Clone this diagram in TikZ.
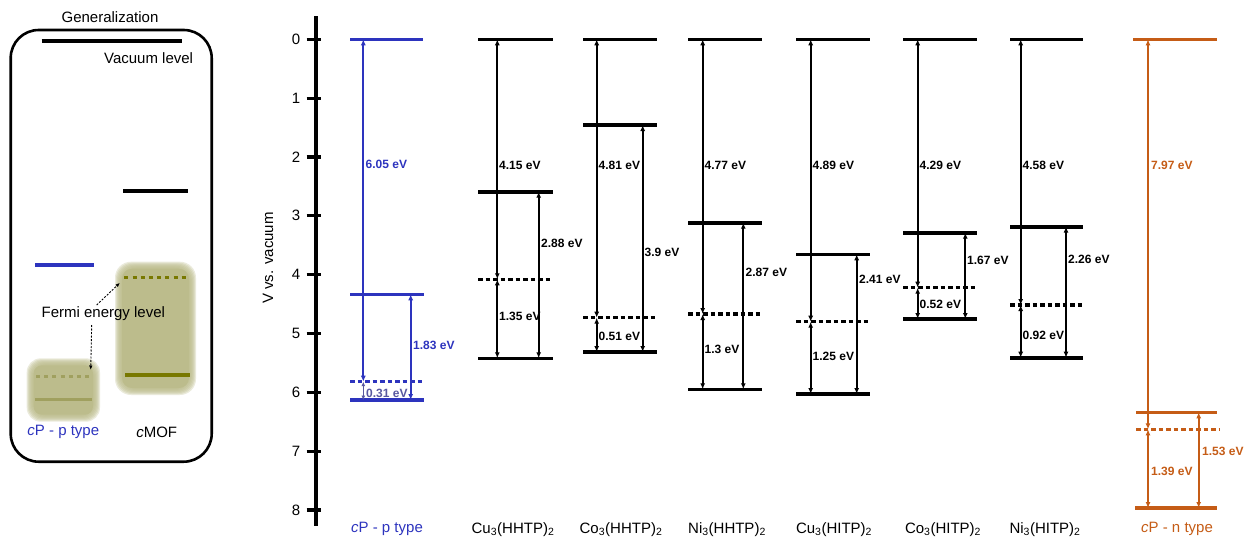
\documentclass[tikz,border=0pt]{standalone}
\usepackage{fontspec}
\setmainfont{Liberation Sans}
\usetikzlibrary{arrows.meta}
\definecolor{pblue}{RGB}{45,52,190}
\definecolor{pgray}{RGB}{88,88,160}
\definecolor{norange}{RGB}{197,92,22}
\definecolor{olivebox}{RGB}{188,188,140}
\definecolor{olivedark}{RGB}{120,120,0}
\definecolor{olivelight}{RGB}{160,160,95}
\newcommand\bandcol[8]{%
  \draw[lvl] (#2,39.3) -- (#3,39.3);
  \draw[lvl] (#2,#6) -- (#3,#6);
  \draw[dlvl] (#2,#7) -- (#3,#7);
  \draw[lvl] (#2,#8) -- (#3,#8);
  \coordinate (#1t) at (#4,39.3);
  \coordinate (#1d) at (#4,#7);
  \coordinate (#1b) at (#4,#8);
  \coordinate (#1u) at (#5,#6);
  \coordinate (#1v) at (#5,#8);
  \draw[arr] (#1t) -- (#1d);
  \draw[arr] (#1d) -- (#1b);
  \draw[arr] (#1u) -- (#1v);
}
\begin{document}
\begin{tikzpicture}[x=1pt,y=-1pt,
  lvl/.style={line width=3.6pt},
  dlvl/.style={line width=3.2pt, dash pattern=on 4.5pt off 3pt},
  arr/.style={line width=1.7pt, {Latex[length=6pt,width=5pt]}-{Latex[length=6pt,width=5pt]}},
  val/.style={font=\fontsize{12}{12}\selectfont\bfseries, anchor=west, inner sep=0pt},
  txt/.style={font=\fontsize{15}{15}\selectfont, inner sep=0pt},
  fermiarr/.style={line width=0.9pt, dash pattern=on 2pt off 1.5pt, -{Latex[length=4.5pt,width=3.5pt]}}
]
\useasboundingbox (0,0) rectangle (1245,539);

% ---------------- left panel ----------------
\node[txt] (gen) at (110,16.7) {Generalization};
\draw[line width=2.6pt, rounded corners=28pt] (10.7,30) rectangle (211.7,461.7);
\draw[line width=4pt] (41.7,40.7) -- (181.7,40.7);
\node[txt, anchor=east] (vac) at (193.3,58.3) {Vacuum level};
\draw[line width=4pt] (123.3,190.7) -- (188.3,190.7);
\draw[line width=4pt, pblue] (35,265) -- (94.3,265);
% blurred boxes
\foreach \i in {0,1,...,6} {
  \fill[olivebox, opacity=0.3, rounded corners=16pt] (115+\i,261.7+\i) rectangle (196-\i,395-\i);
  \fill[olivebox, opacity=0.3, rounded corners=14pt] (26.7+\i,358.3+\i) rectangle (100-\i,421.7-\i);
}
\fill[olivebox, rounded corners=10pt] (122,268.7) rectangle (189,388);
\fill[olivebox, rounded corners=8pt] (33.7,365.3) rectangle (93,414.7);
\draw[olivedark, line width=2.8pt, dash pattern=on 4pt off 4.2pt] (124.3,277.7) -- (186.7,277.7);
\draw[olivedark, line width=3.2pt] (125,375) -- (190,375);
\draw[olivelight, line width=2.8pt, dash pattern=on 4pt off 4.2pt] (36,376.7) -- (90,376.7);
\draw[olivelight, line width=3.2pt] (35,399.3) -- (91.7,399.3);
\node[txt] (fermi) at (103.3,313.3) {Fermi energy level};
\coordinate (fa1) at (96.7,305);
\coordinate (fb1) at (120,282.7);
\coordinate (fa2) at (91.7,325);
\coordinate (fb2) at (90.7,370);
\draw[fermiarr] (fa1) -- (fb1);
\draw[fermiarr] (fa2) -- (fb2);
\node[txt, pblue] (lp) at (63.3,432.3) {\textit{c}P - p type};
\node[txt] (lm) at (156.7,432.3) {\textit{c}MOF};

% ---------------- axis ----------------
\coordinate (axtop) at (316,16);
\coordinate (axbot) at (316,526);
\draw[line width=3.8pt] (axtop) -- (axbot);
\foreach \v in {0,...,8} {
  \draw[line width=3.2pt] (306.7,39.3+\v*58.84) -- (321,39.3+\v*58.84);
  \node[txt] (tick\v) at (296,39.3+\v*58.84) {\v};
}
\node[txt, rotate=90] (ylab) at (268,258) {V vs. vacuum};

% ---------------- cP p-type ----------------
\begin{scope}[pblue]
\draw[line width=3.3pt] (350,39.3) -- (423,39.3);
\draw[line width=3.3pt] (350,294.3) -- (424,294.3);
\draw[line width=3.2pt, dash pattern=on 4.5pt off 3pt] (350,381.7) -- (424,381.7);
\draw[line width=3.3pt] (350,400) -- (424,400);
\coordinate (pt) at (363.3,39.3);
\coordinate (pd) at (363.3,381.7);
\coordinate (pb) at (363.3,400);
\coordinate (pu) at (410.7,294.3);
\coordinate (pv) at (410.7,400);
\draw[arr, line width=2.1pt] (pt) -- (pd);
\draw[arr, line width=2.1pt] (pu) -- (pv);
\draw[arr, line width=1.5pt, pgray, {Latex[length=4.5pt,width=4pt]}-{Latex[length=4.5pt,width=4pt]}] (pd) -- (pb);
\node[val] (p1) at (365.5,164) {6.05 eV};
\node[val] (p2) at (413,345.7) {1.83 eV};
\node[val, pgray] (p3) at (366,393.5) {0.31 eV};
\end{scope}
\node[txt, pblue] (cpp) at (387,529.3) {\textit{c}P - p type};

% ---------------- MOF columns ----------------
\bandcol{a}{478}{553}{497.3}{538.7}{191.7}{279.3}{358.3}
\node[val] at (499,165.7) {4.15 eV};
\node[val] at (541,243.3) {2.88 eV};
\node[val] at (499,316) {1.35 eV};

\bandcol{b}{583}{657}{596.7}{642.7}{125}{317.7}{352}
\node[val] at (598.5,165.7) {4.81 eV};
\node[val] at (644.5,252.3) {3.9 eV};
\node[val] at (598.5,336.7) {0.51 eV};

\bandcol{c}{688}{762}{702.7}{743.3}{222.7}{314}{389.3}
\node[val] at (704.5,165.7) {4.77 eV};
\node[val] at (745.5,272.3) {2.87 eV};
\node[val] at (704.5,349.3) {1.3 eV};

\bandcol{d}{796}{870}{810.7}{856.7}{254.3}{321.7}{394}
\node[val] at (812.5,165.7) {4.89 eV};
\node[val] at (859,279) {2.41 eV};
\node[val] at (812.5,356) {1.25 eV};

\bandcol{e}{903}{977}{917.7}{965.3}{232.7}{287.7}{319}
\node[val] at (919.5,165.7) {4.29 eV};
\node[val] at (967,260.7) {1.67 eV};
\node[val] at (919.5,304) {0.52 eV};

\bandcol{f}{1010}{1083}{1020.7}{1066}{226.7}{305}{357.7}
\node[val] at (1022.5,165.7) {4.58 eV};
\node[val] at (1068,259) {2.26 eV};
\node[val] at (1022.5,335) {0.92 eV};

\node[txt] (la) at (513,529.3) {Cu\textsubscript{3}(HHTP)\textsubscript{2}};
\node[txt] (lb) at (621,529.3) {Co\textsubscript{3}(HHTP)\textsubscript{2}};
\node[txt] (lc) at (727,529.3) {Ni\textsubscript{3}(HHTP)\textsubscript{2}};
\node[txt] (ld) at (834,529.3) {Cu\textsubscript{3}(HITP)\textsubscript{2}};
\node[txt] (le) at (943,529.3) {Co\textsubscript{3}(HITP)\textsubscript{2}};
\node[txt] (lf) at (1045,529.3) {Ni\textsubscript{3}(HITP)\textsubscript{2}};

% ---------------- cP n-type ----------------
\begin{scope}[norange]
\draw[line width=3.3pt] (1133,39.3) -- (1217,39.3);
\draw[line width=3.3pt] (1136,412.3) -- (1217,412.3);
\draw[line width=3.2pt, dash pattern=on 4.5pt off 3pt] (1136,429.3) -- (1220,429.3);
\draw[line width=3.3pt] (1135,508) -- (1217,508);
\coordinate (nt) at (1148,39.3);
\coordinate (nd) at (1148,429.3);
\coordinate (nb) at (1148,508);
\coordinate (nu) at (1198.7,412.3);
\coordinate (nv) at (1198.7,508);
\draw[arr, line width=2.4pt] (nt) -- (nd);
\draw[arr, line width=2.4pt] (nd) -- (nb);
\draw[arr, line width=2.4pt] (nu) -- (nv);
\node[val] (n1) at (1151,165.7) {7.97 eV};
\node[val] (n2) at (1202,451.7) {1.53 eV};
\node[val] (n3) at (1151,471.7) {1.39 eV};
\end{scope}
\node[txt, norange] (cpn) at (1177,529.3) {\textit{c}P - n type};
\end{tikzpicture}
\end{document}
